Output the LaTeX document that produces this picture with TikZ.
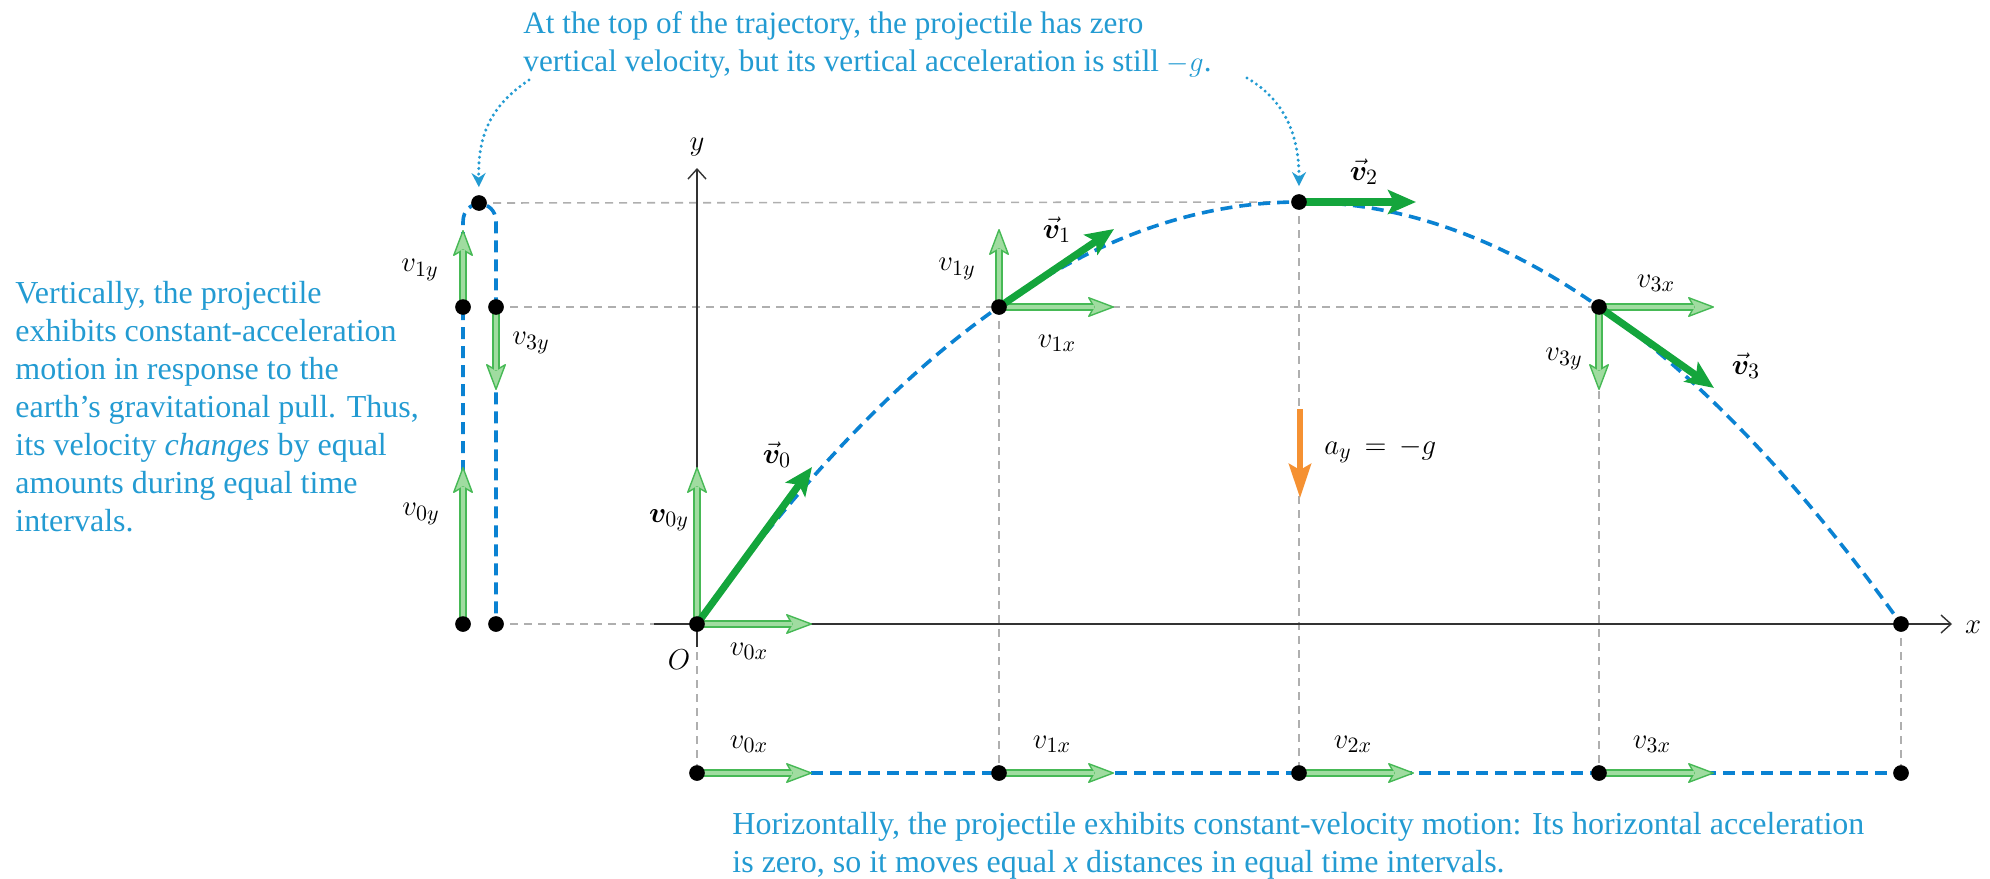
\documentclass[tikz,border=0pt]{standalone}
\usepackage{amsmath,bm}
\usepackage{fontspec}
\setmainfont{Liberation Serif}
\usetikzlibrary{arrows.meta}
\definecolor{sgreen}{RGB}{20,165,60}
\definecolor{hgreen}{RGB}{70,185,85}
\definecolor{hlight}{RGB}{160,220,160}
\definecolor{tblue}{RGB}{35,155,210}
\definecolor{dblue}{RGB}{10,130,210}
\definecolor{lgray}{RGB}{175,175,175}
\definecolor{aorange}{RGB}{245,145,50}
\begin{document}
\begin{tikzpicture}[x=0.5pt,y=-0.5pt,
  dot/.style={circle,fill=black,inner sep=0pt,minimum size=7.5pt},
  gdash/.style={draw=lgray,line width=0.8pt,dash pattern=on 4pt off 3pt},
  traj/.style={draw=dblue,line width=1.8pt,dash pattern=on 6pt off 3.5pt},
  axis/.style={draw=black!80,line width=0.7pt,-{Straight Barb[length=5pt,width=9pt,line width=0.7pt]}},
  hvec/.style={draw=hgreen,line width=4pt,-{Stealth[length=14pt,width=10.5pt,inset=3pt,line width=0.7pt,fill=hlight,round]}},
  hin/.style={draw=hlight,line width=1.8pt,shorten >=10pt},
  svec/.style={draw=sgreen,line width=3.6pt,-{Stealth[length=14pt,width=12pt,inset=3pt]}},
  avec/.style={draw=aorange,line width=3pt,-{Stealth[length=17pt,width=11pt,inset=3pt]}},
  dotarr/.style={draw=tblue,line width=1.7pt,line cap=round,dash pattern=on 0pt off 2.8pt,-{Stealth[length=7pt,width=7pt]}},
  ctext/.style={text=tblue,align=left,inner sep=0pt,anchor=north west},
  lab/.style={inner sep=0pt,font=\fontsize{15}{18}\selectfont}]
\useasboundingbox (0,0) rectangle (1990,878);

% points
\node[dot] (pL0) at (463,624) {};
\node[dot] (pR0) at (496,624) {};
\node[dot] (pL1) at (463,307) {};
\node[dot] (pR1) at (496,307) {};
\node[dot] (pT) at (479,203) {};
\node[dot] (O) at (697,624) {};
\node[dot] (P1) at (999,307) {};
\node[dot] (P2) at (1299,202) {};
\node[dot] (P3) at (1599,307) {};
\node[dot] (P4) at (1901,624) {};
\node[dot] (B0) at (697,773) {};
\node[dot] (B1) at (999,773) {};
\node[dot] (B2) at (1299,773) {};
\node[dot] (B3) at (1599,773) {};
\node[dot] (B4) at (1901,773) {};

\coordinate (xa0) at (654,624);
\coordinate (xa1) at (1952,624);
\coordinate (ya0) at (697,647);
\coordinate (ya1) at (697,168);

% gray dashed guides
\draw[gdash] (pT.center) -- (P2.center);
\draw[gdash] (pR1.center) -- (P3.center);
\draw[gdash] (pR0.center) -- (xa0);
\draw[gdash] (O.center) -- (B0.center);
\draw[gdash] (P1.center) -- (B1.center);
\draw[gdash] (P2.center) -- (B2.center);
\draw[gdash] (P3.center) -- (B3.center);
\draw[gdash] (P4.center) -- (B4.center);

% axes
\draw[axis] (xa0) -- (xa1);
\draw[axis] (ya0) -- (ya1);
\node[lab] (xl) at (1973,627) {$x$};
\node[lab] (yl) at (697,147) {$y$};
\node[lab] (Ol) at (679,660) {$O$};

% trajectory
\draw[traj] (O.center) .. controls (897.7,342.7) and (1098.3,202) .. (P2.center)
  .. controls (1499.7,202) and (1700.3,342.7) .. (P4.center);
% vertical motion column
\draw[traj] (pL0.center) -- (463,222) .. controls (463,198) and (496,198) .. (496,222) -- (pR0.center);
% horizontal motion row
\draw[traj] (B0.center) -- (B4.center);

% endpoints
\coordinate (e0x) at (812,624);
\coordinate (e0y) at (697,467);
\coordinate (e0) at (812,467);
\coordinate (e1x) at (1114,307);
\coordinate (e1y) at (999,229);
\coordinate (e1) at (1114,229);
\coordinate (e2) at (1416,202);
\coordinate (e3x) at (1714,307);
\coordinate (e3y) at (1599,390);
\coordinate (e3) at (1714,388);
\coordinate (eL1) at (463,230);
\coordinate (eL0) at (463,467);
\coordinate (eR3) at (496,390);
\coordinate (b0e) at (812,773);
\coordinate (b1e) at (1114,773);
\coordinate (b2e) at (1414,773);
\coordinate (b3e) at (1714,773);

% hollow component arrows
\foreach \a/\b in {O/e0x,O/e0y,P1/e1x,P1/e1y,P3/e3x,P3/e3y,pL1/eL1,pL0/eL0,pR1/eR3,B0/b0e,B1/b1e,B2/b2e,B3/b3e}{
  \draw[hvec] (\a.center) -- (\b);
  \draw[hin] (\a.center) -- (\b);
}
% solid velocity vectors
\draw[svec] (O.center) -- (e0);
\draw[svec] (P1.center) -- (e1);
\draw[svec] (P2.center) -- (e2);
\draw[svec] (P3.center) -- (e3);

% acceleration
\coordinate (ga) at (1300,409);
\coordinate (gb) at (1300,498);
\draw[avec] (ga) -- (gb);
\node[lab,anchor=west] (al) at (1324,450) {$a_y\,=\,-g$};

% redraw dots on top
\foreach \p in {pL0,pR0,pL1,pR1,pT,O,P1,P2,P3,P4,B0,B1,B2,B3,B4}{\fill (\p) circle (3.9pt);}

% labels
\node[lab] (l0x) at (749,651) {$v_{0x}$};
\node[lab] (l0y) at (669,520) {$\bm{v}_{0y}$};
\node[lab] (lv0) at (777,455) {$\vec{\bm v}_0$};
\node[lab] (l1y) at (957,269) {$v_{1y}$};
\node[lab] (lv1) at (1057,230) {$\vec{\bm v}_1$};
\node[lab] (l1x) at (1057,343) {$v_{1x}$};
\node[lab] (lv2) at (1364,172) {$\vec{\bm v}_2$};
\node[lab] (l3x) at (1656,283) {$v_{3x}$};
\node[lab] (l3y) at (1564,359) {$v_{3y}$};
\node[lab] (lv3) at (1746,366) {$\vec{\bm v}_3$};
\node[lab] (lL1) at (420,270) {$v_{1y}$};
\node[lab] (lR3) at (531,343) {$v_{3y}$};
\node[lab] (lL0) at (421,514) {$v_{0y}$};
\node[lab] (lb0) at (749,744) {$v_{0x}$};
\node[lab] (lb1) at (1052,744) {$v_{1x}$};
\node[lab] (lb2) at (1353,744) {$v_{2x}$};
\node[lab] (lb3) at (1652,744) {$v_{3x}$};

% texts
\node[ctext,font=\fontsize{15.6}{19}\selectfont] (toptext) at (523,11)
  {At the top of the trajectory, the projectile has zero\\vertical velocity, but its vertical acceleration is still $-g$.};
\node[ctext,font=\fontsize{16}{19}\selectfont] (lefttext) at (15,281)
  {Vertically, the projectile\\exhibits constant-acceleration\\motion in response to the\\earth’s gravitational pull. Thus,\\its velocity \textit{changes} by equal\\amounts during equal time\\intervals.};
\node[ctext,font=\fontsize{16}{19}\selectfont] (bottext) at (732,812)
  {Horizontally, the projectile exhibits constant-velocity motion: Its horizontal acceleration\\is zero, so it moves equal \textit{x} distances in equal time intervals.};

% dotted pointers
\coordinate (ta) at (529,80);
\coordinate (tb) at (1247,78);
\draw[dotarr,shorten >=4pt] (ta) .. controls (487,108) and (478,140) .. (pT.north);
\draw[dotarr,shorten >=4pt] (tb) .. controls (1288,102) and (1299,140) .. (P2.north);
\end{tikzpicture}
\end{document}
